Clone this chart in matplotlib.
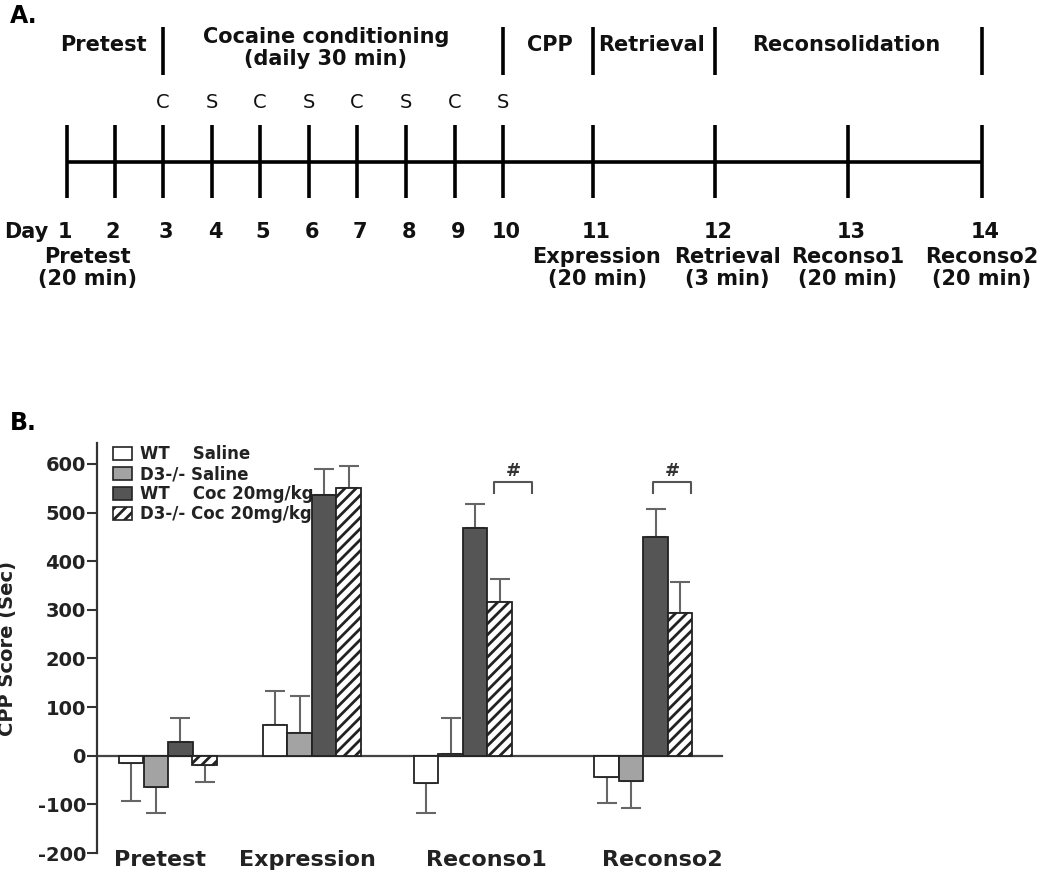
import matplotlib
matplotlib.use("Agg")
import matplotlib.pyplot as plt
from matplotlib.patches import Patch
import numpy as np

# ---------------- data ----------------
days = ["1", "2", "3", "4", "5", "6", "7", "8", "9", "10", "11", "12", "13", "14"]
drug_marks = ["C", "S", "C", "S", "C", "S", "C", "S"]          # days 3..10
phase_names = ["Pretest", "Cocaine conditioning\n(daily 30 min)", "CPP", "Retrieval", "Reconsolidation"]
session_labels = ["Pretest\n(20 min)", "Expression\n(20 min)", "Retrieval\n(3 min)",
                  "Reconso1\n(20 min)", "Reconso2\n(20 min)"]

categories = ["Pretest", "Expression", "Reconso1", "Reconso2"]
series = ["WT    Saline", "D3-/- Saline", "WT    Coc 20mg/kg", "D3-/- Coc 20mg/kg"]
wt_saline = [-14, 63, -57, -44]
d3_saline = [-65, 46, 4, -51]
wt_coc = [29, 536, 469, 449]
d3_coc = [-20, 550, 316, 293]
wt_saline_err = [79, 71, 60, 54]
d3_saline_err = [52, 77, 73, 56]
wt_coc_err = [48, 53, 49, 58]
d3_coc_err = [34, 45, 48, 64]
sig_groups = ["Reconso1", "Reconso2"]
sig_mark = "#"

# ---------------- layout / style ----------------
W, H = 1050, 880
plt.rcParams['font.family'] = ['DejaVu Sans']
plt.rcParams['hatch.linewidth'] = 2.0
plt.rcParams['hatch.color'] = '#1a1a1a'
fig = plt.figure(figsize=(W / 100, H / 100), dpi=100)

# Panel A: drawn in figure-pixel coordinates
axA = fig.add_axes([0, 0, 1, 1])
axA.set_xlim(0, W)
axA.set_ylim(H, 0)
axA.axis("off")

day_x = [66.7, 115, 163, 212, 260, 309, 357, 406, 455, 503, 593, 715, 848, 982]
line_y, tick_top, tick_bot = 162, 125, 198
lw_a = 2.6
axA.plot([day_x[0], day_x[-1]], [line_y, line_y], color="black", lw=lw_a, solid_capstyle="butt")
for x in day_x:
    axA.plot([x, x], [tick_top, tick_bot], color="black", lw=lw_a, solid_capstyle="butt")
sep_idx = [2, 9, 10, 11, 13]
for i in sep_idx:
    axA.plot([day_x[i], day_x[i]], [27, 75], color="black", lw=lw_a, solid_capstyle="butt")

fa = dict(fontsize=15, fontweight="bold", ha="center", va="center", color="#111111")
axA.text(103, 45, phase_names[0], **fa)
axA.text(326, 48, phase_names[1], linespacing=1.15, **fa)
axA.text(550, 45, phase_names[2], **fa)
axA.text(652, 45, phase_names[3], **fa)
axA.text(846, 45, phase_names[4], **fa)

for k, m in enumerate(drug_marks):
    axA.text(day_x[2 + k], 102, m, fontsize=14, ha="center", va="center", color="#111111")

axA.text(26, 232, "Day", fontsize=15, fontweight="bold", ha="center", va="center", color="#111111")
for k, d in enumerate(days):
    axA.text(day_x[k] + (3 if k > 1 else -2), 232, d, fontsize=15, fontweight="bold",
             ha="center", va="center", color="#111111")
sess_x = [87.5, 597, 727, 848, 982]
for x, s in zip(sess_x, session_labels):
    axA.text(x, 268, s, linespacing=1.15, **fa)

axA.text(10, 16, "A.", fontsize=17, fontweight="bold", ha="left", va="center")
axA.text(10, 423, "B.", fontsize=17, fontweight="bold", ha="left", va="center")

# Panel B
ax_left, ax_right = 97, 740
ax_top, ax_bot = 443, 853
axB = fig.add_axes([ax_left / W, 1 - ax_bot / H, (ax_right - ax_left) / W, (ax_bot - ax_top) / H])
axB.set_facecolor("none")
axB.set_xlim(ax_left, ax_right)
axB.set_ylim(-200, 643)

group_x = [168, 312, 463, 643.5]
bw = 24.5
offsets = [-1.5 * bw, -0.5 * bw, 0.5 * bw, 1.5 * bw]
vals = [wt_saline, d3_saline, wt_coc, d3_coc]
errs = [wt_saline_err, d3_saline_err, wt_coc_err, d3_coc_err]
faces = ["white", "#a3a3a3", "#555555", "white"]
hatches = [None, None, None, "///"]

axB.axhline(0, xmin=0, xmax=(722 - ax_left) / (ax_right - ax_left), color="#444444", lw=1.6, zorder=1)

handles = []
for s in range(4):
    xs = np.array(group_x) + offsets[s]
    v = np.array(vals[s], dtype=float)
    e = np.array(errs[s], dtype=float)
    lower = np.where(v < 0, e, 0)
    upper = np.where(v >= 0, e, 0)
    axB.errorbar(xs, v, yerr=[lower, upper], fmt="none", ecolor="#666666", elinewidth=1.5,
                 capsize=7, capthick=1.5, zorder=2)
    axB.bar(xs, v, width=bw, color=faces[s], edgecolor="#222222", linewidth=1.3,
            hatch=hatches[s], zorder=3)
    handles.append(Patch(facecolor=faces[s], edgecolor="#222222", linewidth=1.2,
                         hatch=hatches[s], label=series[s]))

# significance brackets
bracket_x = {"Reconso1": (494, 532), "Reconso2": (653, 691)}
for g in sig_groups:
    x0, x1 = bracket_x[g]
    axB.plot([x0, x0, x1, x1], [541, 563, 563, 541], color="#555555", lw=1.5, zorder=4)
    axB.text((x0 + x1) / 2, 586, sig_mark, fontsize=13, fontweight="bold", ha="center",
             va="center", color="#333333")

# axes styling
for sp in ["top", "right", "bottom"]:
    axB.spines[sp].set_visible(False)
axB.spines["left"].set_linewidth(1.6)
axB.spines["left"].set_color("#333333")
axB.set_yticks(np.arange(-200, 601, 100))
axB.set_yticklabels([str(t) for t in range(-200, 601, 100)], fontsize=14, fontweight="bold",
                    color="#222222")
axB.tick_params(axis="y", length=7, width=1.5, color="#333333", pad=1)
label_x = [160, 307, 486, 662]
axB.set_xticks(label_x)
axB.set_xticklabels(categories, fontsize=16, fontweight="bold", color="#222222")
axB.tick_params(axis="x", length=0, pad=-2)
axB.set_ylabel("CPP Score (Sec)", fontsize=14, fontweight="bold", color="#222222")
axB.yaxis.set_label_coords(-(97 - 17) / (ax_right - ax_left), (853 - 648) / (ax_bot - ax_top))

leg = axB.legend(handles=handles, loc="upper left",
                 bbox_to_anchor=(113 / W, 1 - 445 / H), bbox_transform=fig.transFigure,
                 frameon=False, borderpad=0, borderaxespad=0, handlelength=1.15,
                 handleheight=0.8, handletextpad=0.45, labelspacing=0.12,
                 prop=dict(size=12, weight="bold"))
for t in leg.get_texts():
    t.set_color("#222222")

fig.savefig("out.png", dpi=100)
